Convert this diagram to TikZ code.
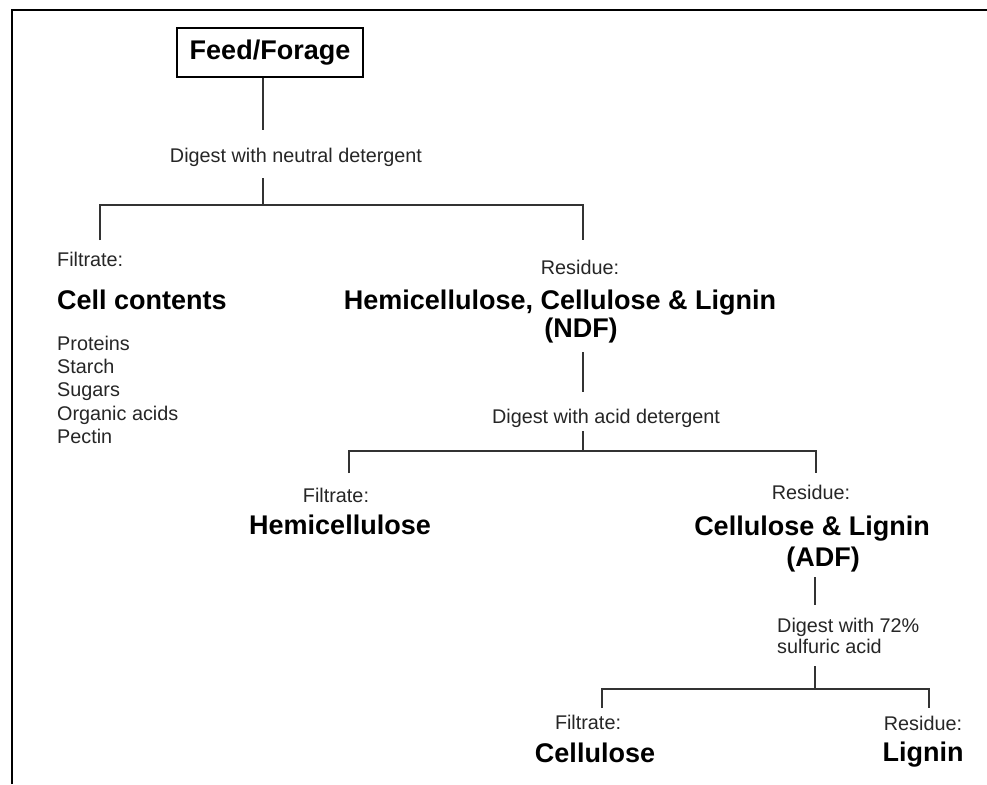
\documentclass[tikz,border=0pt]{standalone}
\usepackage{fontspec}
\setmainfont{Liberation Sans}
\begin{document}
\begin{tikzpicture}[x=1pt,y=-1pt,
  reg/.style={inner sep=0pt, text=black!85, font=\fontsize{19.8}{23.2}\selectfont},
  big/.style={inner sep=0pt, text=black, font=\fontsize{27}{30}\selectfont\bfseries},
  conn/.style={line width=1.2pt, draw=black!80},
  frame/.style={line width=2.3pt, draw=black}]
\useasboundingbox (0,0) rectangle (987,784);
\fill[white] (0,0) rectangle (987,784);
\draw[frame] (12,784) -- (12,10) -- (987,10);

% top box
\node[draw, line width=1.2pt, inner sep=0pt, minimum width=186pt, minimum height=49pt,
      text height=19pt, text depth=5pt, big] (feed) at (270,52.5) {Feed/Forage};

% step 1
\node[reg, anchor=base] (d1) at (296,162) {Digest with neutral detergent};
\coordinate (v1e) at (263,130);
\coordinate (v2s) at (263,178);
\coordinate (j1) at (263,205);
\coordinate (l1) at (100,205);
\coordinate (r1) at (583,205);
\coordinate (l1e) at (100,240);
\coordinate (r1e) at (583,240);
\draw[conn] (feed.south -| j1) -- (v1e);
\draw[conn] (v2s) -- (j1);
\draw[conn] (l1e) -- (l1) -- (r1) -- (r1e);

% left branch: cell contents
\node[reg, anchor=base west] (filt1) at (57,266) {Filtrate:};
\node[big, anchor=base west] (cell) at (57,309) {Cell contents};
\node[reg, anchor=base west] (p1) at (57,350) {Proteins};
\node[reg, anchor=base west] (p2) at (57,373) {Starch};
\node[reg, anchor=base west] (p3) at (57,396.5) {Sugars};
\node[reg, anchor=base west] (p4) at (57,420) {Organic acids};
\node[reg, anchor=base west] (p5) at (57,443) {Pectin};

% right branch: NDF
\node[reg, anchor=base] (res1) at (580,274) {Residue:};
\node[big, anchor=base] (ndf1) at (560,309) {Hemicellulose, Cellulose \& Lignin};
\node[big, anchor=base] (ndf2) at (581,337) {(NDF)};

% step 2
\coordinate (v3s) at (583,352);
\coordinate (v3e) at (583,392);
\node[reg, anchor=base] (d2) at (606,423) {Digest with acid detergent};
\coordinate (v4s) at (583,431);
\coordinate (j2) at (583,451);
\coordinate (l2) at (349,451);
\coordinate (r2) at (816,451);
\coordinate (l2e) at (349,473);
\coordinate (r2e) at (816,473);
\draw[conn] (v3s) -- (v3e);
\draw[conn] (v4s) -- (j2);
\draw[conn] (l2e) -- (l2) -- (r2) -- (r2e);

\node[reg, anchor=base] (filt2) at (336,502) {Filtrate:};
\node[big, anchor=base] (hemi) at (340,534) {Hemicellulose};
\node[reg, anchor=base] (res2) at (811,499) {Residue:};
\node[big, anchor=base] (adf1) at (812,535) {Cellulose \& Lignin};
\node[big, anchor=base] (adf2) at (823,566) {(ADF)};

% step 3
\coordinate (v5s) at (815,577);
\coordinate (v5e) at (815,605);
\node[reg, anchor=base west] (d3a) at (777,632) {Digest with 72\%};
\node[reg, anchor=base west] (d3b) at (777,653) {sulfuric acid};
\coordinate (v6s) at (815,666);
\coordinate (j3) at (815,689);
\coordinate (l3) at (602,689);
\coordinate (r3) at (929,689);
\coordinate (l3e) at (602,708);
\coordinate (r3e) at (929,708);
\draw[conn] (v5s) -- (v5e);
\draw[conn] (v6s) -- (j3);
\draw[conn] (l3e) -- (l3) -- (r3) -- (r3e);

\node[reg, anchor=base] (filt3) at (588,729) {Filtrate:};
\node[big, anchor=base] (cellu) at (595,762) {Cellulose};
\node[reg, anchor=base] (res3) at (923,730) {Residue:};
\node[big, anchor=base] (lig) at (923,761) {Lignin};
\end{tikzpicture}
\end{document}
